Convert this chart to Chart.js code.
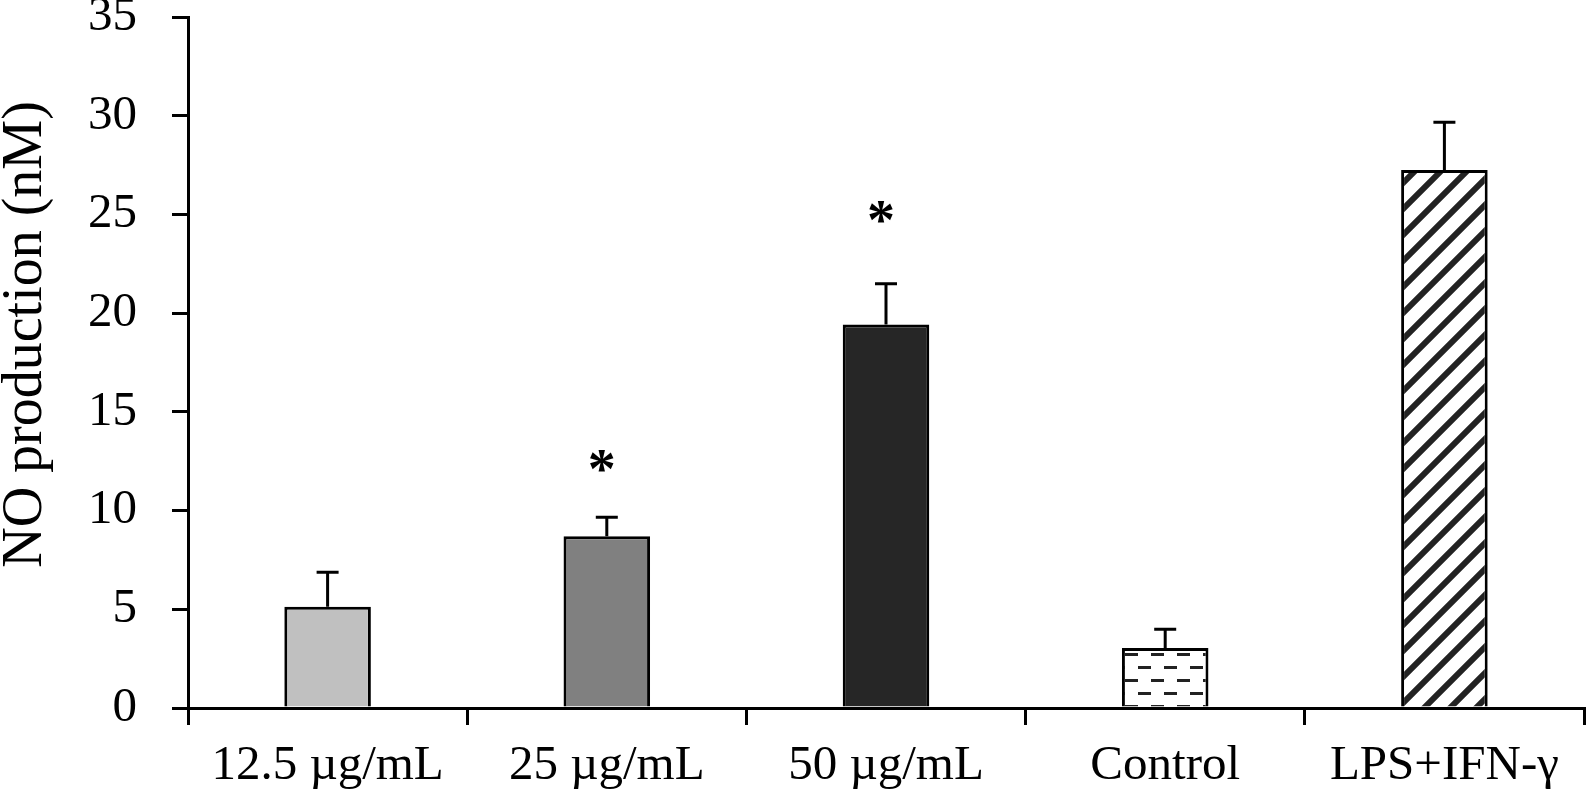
<!DOCTYPE html>
<html>
<head>
<meta charset="utf-8">
<script src="https://cdn.jsdelivr.net/npm/chart.js@4"></script>
<style>
  html, body { margin: 0; padding: 0; background: #fff; }
  #wrap { width: 1588px; height: 796px; }
</style>
</head>
<body>
<div id="wrap"><canvas id="chart" width="1588" height="796"></canvas></div>
<script>
const categories = ["12.5 \u00b5g/mL", "25 \u00b5g/mL", "50 \u00b5g/mL", "Control", "LPS+IFN-\u03b3"];
const noValues = [5.13, 8.7, 19.43, 3.04, 27.25];
const errorTops = [6.88, 9.66, 21.49, 3.99, 29.67];
const starLevels = [null, 12.5, 25.1, null, null];
const yTicks = [0, 5, 10, 15, 20, 25, 30, 35];

// dashed fill for the control bar
function dashPattern() {
    const c = document.createElement("canvas");
    c.width = 26; c.height = 26;
    const g = c.getContext("2d");
    g.fillStyle = "#fff";
    g.fillRect(0, 0, 26, 26);
    g.fillStyle = "#222";
    g.fillRect(7, 3, 13, 3);
    g.fillRect(0, 16, 7, 3);
    g.fillRect(20, 16, 6, 3);
    return g.createPattern(c, "repeat");
}

// diagonal hatch for LPS+IFN-γ
function hatchPattern() {
    const c = document.createElement("canvas");
    c.width = 26; c.height = 26;
    const g = c.getContext("2d");
    g.fillStyle = "#fff";
    g.fillRect(0, 0, 26, 26);
    g.strokeStyle = "#222";
    g.lineWidth = 6;
    [0, 26, 52].forEach(k => {
        g.beginPath();
        g.moveTo(-5, k + 5);
        g.lineTo(k + 5, -5);
        g.stroke();
    });
    return g.createPattern(c, "repeat");
}

const ctx = document.getElementById("chart").getContext("2d");
const fills = ["#c0c0c0", "#808080", "#262626", dashPattern(), hatchPattern()];

const errorBars = {
    id: "errorBars",
    afterDatasetsDraw(chart) {
        const g = chart.ctx;
        const yScale = chart.scales.y;
        const meta = chart.getDatasetMeta(0);
        g.save();
        g.strokeStyle = "#000";
        g.lineWidth = 3;
        meta.data.forEach((bar, i) => {
            const yTop = yScale.getPixelForValue(errorTops[i]);
            const yBar = yScale.getPixelForValue(noValues[i]);
            g.beginPath();
            g.moveTo(bar.x, yBar);
            g.lineTo(bar.x, yTop);
            g.moveTo(bar.x - 11, yTop);
            g.lineTo(bar.x + 11, yTop);
            g.stroke();
            if (starLevels[i] !== null) {
                g.fillStyle = "#000";
                g.font = "bold 56px 'Liberation Serif'";
                g.textAlign = "center";
                g.textBaseline = "alphabetic";
                const m = g.measureText("*");
                const yc = yScale.getPixelForValue(starLevels[i]);
                g.fillText("*", bar.x - 5, yc + (m.actualBoundingBoxAscent - m.actualBoundingBoxDescent) / 2);
            }
        });
        g.restore();
    }
};

new Chart(ctx, {
    type: "bar",
    data: {
        labels: categories,
        datasets: [{
            data: noValues,
            backgroundColor: fills,
            borderColor: "#000",
            borderWidth: 3,
            categoryPercentage: 1,
            barPercentage: 0.31
        }]
    },
    options: {
        responsive: false,
        animation: false,
        layout: { padding: { top: 0, right: 4, left: 0, bottom: 0 } },
        plugins: { legend: { display: false }, tooltip: { enabled: false } },
        scales: {
            x: {
                grid: {
                    offset: true,
                    drawOnChartArea: false,
                    color: "#000",
                    lineWidth: 3,
                    tickLength: 17
                },
                border: { color: "#000", width: 3 },
                ticks: {
                    color: "#000",
                    padding: 12,
                    maxRotation: 0,
                    font: { family: "'Liberation Serif'", size: 49 }
                },
                afterFit(axis) {
                    axis.height = 88;
                    axis.paddingLeft = 0;
                    axis.paddingRight = 0;
                }
            },
            y: {
                min: 0,
                max: 35,
                afterBuildTicks(axis) { axis.ticks = yTicks.map(v => ({ value: v })); },
                grid: {
                    drawOnChartArea: false,
                    color: "#000",
                    lineWidth: 3,
                    tickLength: 16
                },
                border: { color: "#000", width: 3 },
                ticks: {
                    color: "#000",
                    padding: 35,
                    font: { family: "'Liberation Serif'", size: 49 }
                },
                title: {
                    display: true,
                    text: "\u00a0\u00a0\u00a0\u00a0NO production (nM)",
                    color: "#000",
                    padding: { top: 1, bottom: 0 },
                    font: { family: "'Liberation Serif'", size: 56, lineHeight: 0.9 }
                },
                afterFit(axis) {
                    axis.width = 188;
                    axis.paddingTop = 17;
                    axis.paddingBottom = 0;
                }
            }
        }
    },
    plugins: [errorBars]
});
</script>
</body>
</html>
